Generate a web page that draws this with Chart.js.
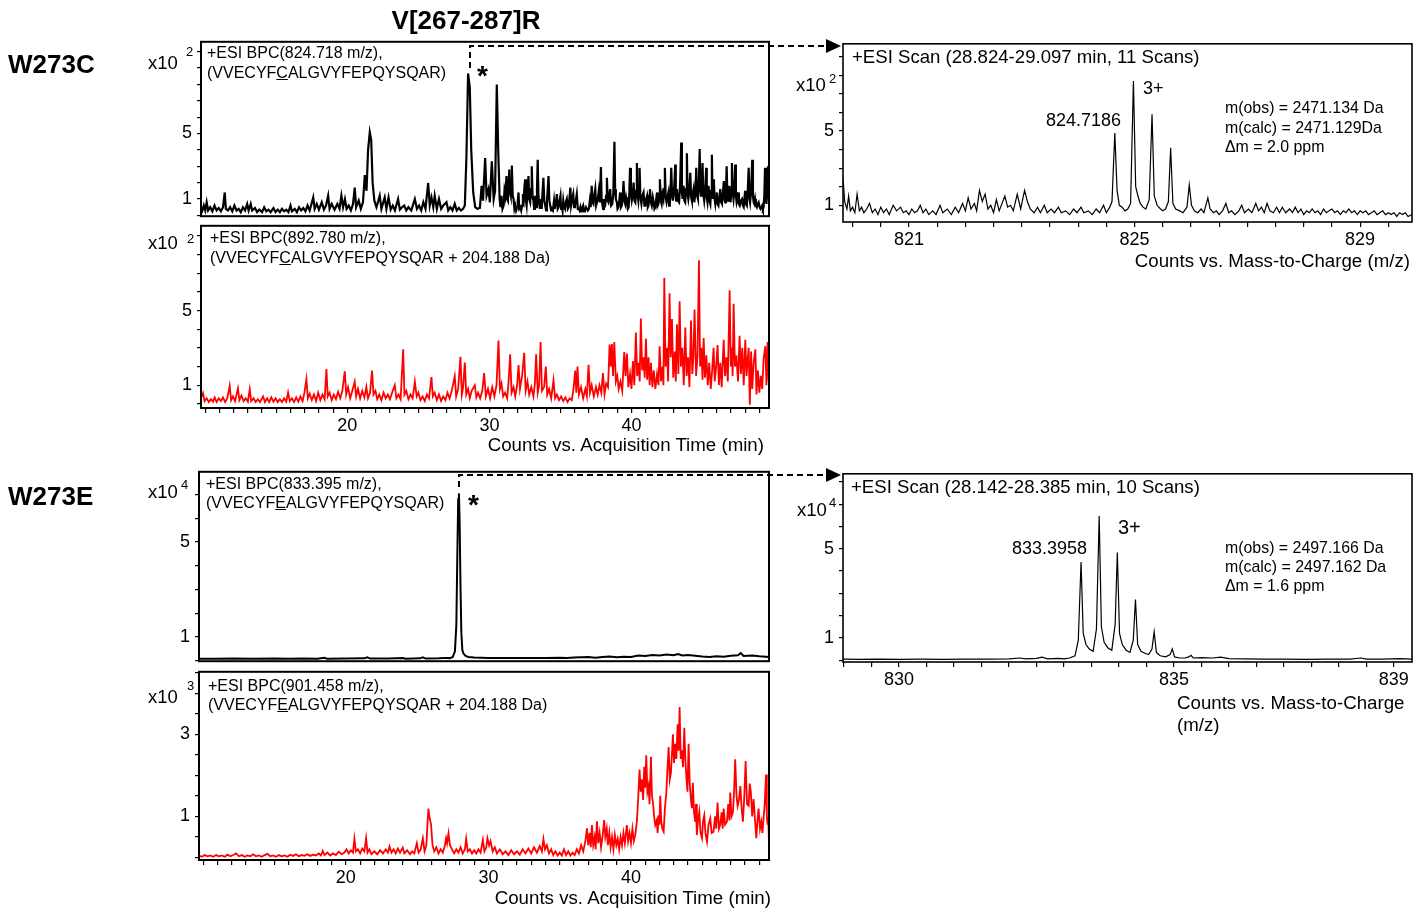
<!DOCTYPE html>
<html>
<head>
<meta charset="utf-8">
<script src="https://cdn.jsdelivr.net/npm/chart.js@4.4.1/dist/chart.umd.min.js"></script>
<style>
  body { margin: 0; background: #fff; overflow: hidden; }
  #fig { position: relative; width: 1416px; height: 910px; font-family: "Liberation Sans", Arial, sans-serif; color: #000; }
  #fig canvas { position: absolute; }
  .t { position: absolute; white-space: nowrap; line-height: 1; }
  .b { font-weight: bold; }
</style>
</head>
<body>
<div id="fig">
  <canvas id="cA"></canvas>
  <canvas id="cB"></canvas>
  <canvas id="cC"></canvas>
  <canvas id="cD"></canvas>
  <canvas id="cE"></canvas>
  <canvas id="cF"></canvas>

  <svg width="1416" height="910" style="position:absolute;left:0;top:0">
    <path d="M470 68 V46 H828" fill="none" stroke="#000" stroke-width="2" stroke-dasharray="6 4"/>
    <polygon points="826,39 841,46 826,53" fill="#000"/>
    <path d="M459 487 V475 H828" fill="none" stroke="#000" stroke-width="2" stroke-dasharray="6 4"/>
    <polygon points="826,468 841,475 826,482" fill="#000"/>
  </svg>

  <div class="t b" style="left:466px;top:7px;font-size:26px;transform:translateX(-50%)">V[267-287]R</div>
  <div class="t b" style="left:8px;top:51px;font-size:26px">W273C</div>
  <div class="t b" style="left:8px;top:483px;font-size:26px">W273E</div>

  <!-- chromatogram labels -->
  <div class="t" style="left:207px;top:45px;font-size:16px">+ESI BPC(824.718 m/z),</div>
  <div class="t" style="left:207px;top:65px;font-size:16px">(VVECYF<u>C</u>ALGVYFEPQYSQAR)</div>
  <div class="t" style="left:210px;top:230px;font-size:16px">+ESI BPC(892.780 m/z),</div>
  <div class="t" style="left:210px;top:250px;font-size:16px">(VVECYF<u>C</u>ALGVYFEPQYSQAR + 204.188 Da)</div>
  <div class="t" style="left:206px;top:476px;font-size:16px">+ESI BPC(833.395 m/z),</div>
  <div class="t" style="left:206px;top:495px;font-size:16px">(VVECYF<u>E</u>ALGVYFEPQYSQAR)</div>
  <div class="t" style="left:208px;top:678px;font-size:16px">+ESI BPC(901.458 m/z),</div>
  <div class="t" style="left:208px;top:697px;font-size:16px">(VVECYF<u>E</u>ALGVYFEPQYSQAR + 204.188 Da)</div>

  <!-- scale factors -->
  <div class="t" style="left:148px;top:54px;font-size:18.5px">x10</div>
  <div class="t" style="left:186px;top:45px;font-size:13px">2</div>
  <div class="t" style="left:148px;top:234px;font-size:18.5px">x10</div>
  <div class="t" style="left:187px;top:232px;font-size:13px">2</div>
  <div class="t" style="left:148px;top:483px;font-size:18.5px">x10</div>
  <div class="t" style="left:181px;top:478px;font-size:13px">4</div>
  <div class="t" style="left:148px;top:688px;font-size:18.5px">x10</div>
  <div class="t" style="left:187px;top:679px;font-size:13px">3</div>
  <div class="t" style="left:796px;top:76px;font-size:18.5px">x10</div>
  <div class="t" style="left:829px;top:72px;font-size:13px">2</div>
  <div class="t" style="left:797px;top:501px;font-size:18.5px">x10</div>
  <div class="t" style="left:829px;top:496px;font-size:13px">4</div>

  <!-- axis titles -->
  <div class="t" style="right:652px;top:436px;font-size:18.7px">Counts vs. Acquisition Time (min)</div>
  <div class="t" style="right:645px;top:889px;font-size:18.7px">Counts vs. Acquisition Time (min)</div>
  <div class="t" style="right:6px;top:252px;font-size:18.7px">Counts vs. Mass-to-Charge (m/z)</div>
  <div class="t" style="left:1177px;top:694px;font-size:18.7px">Counts vs. Mass-to-Charge</div>
  <div class="t" style="left:1177px;top:716px;font-size:18.7px">(m/z)</div>

  <!-- spectrum titles and notes -->
  <div class="t" style="left:852px;top:48px;font-size:18.6px">+ESI Scan (28.824-29.097 min, 11 Scans)</div>
  <div class="t" style="left:851px;top:478px;font-size:18.6px">+ESI Scan (28.142-28.385 min, 10 Scans)</div>
  <div class="t" style="left:1046px;top:111px;font-size:18px">824.7186</div>
  <div class="t" style="left:1143px;top:79px;font-size:18px">3+</div>
  <div class="t" style="left:1225px;top:100px;font-size:15.9px">m(obs) = 2471.134 Da</div>
  <div class="t" style="left:1225px;top:120px;font-size:15.9px">m(calc) = 2471.129Da</div>
  <div class="t" style="left:1225px;top:139px;font-size:15.9px">Δm = 2.0 ppm</div>
  <div class="t" style="left:1012px;top:539px;font-size:18px">833.3958</div>
  <div class="t" style="left:1118px;top:517px;font-size:20px">3+</div>
  <div class="t" style="left:1225px;top:540px;font-size:15.9px">m(obs) = 2497.166 Da</div>
  <div class="t" style="left:1225px;top:559px;font-size:15.9px">m(calc) = 2497.162 Da</div>
  <div class="t" style="left:1225px;top:578px;font-size:15.9px">Δm = 1.6 ppm</div>

  <div class="t b" style="left:477px;top:62px;font-size:28px">*</div>
  <div class="t b" style="left:468px;top:491px;font-size:28px">*</div>
</div>

<script>
// tick labels
const timeTickLabels = [20, 30, 40];
const mzTickLabelsC = [821, 825, 829];
const mzTickLabelsE = [830, 835, 839];

// W273C, BPC 824.718 m/z  [time (min), counts x10^2]
const w273cBpc = [[9.7,0.5],[9.8,0.3],[9.9,0.6],[10.0,0.3],[10.1,0.8],[10.2,0.3],[10.35,0.5],[10.5,0.25],[10.65,0.6],[10.8,0.3],[10.95,0.45],[11.1,0.25],[11.25,0.5],[11.37,1.4],[11.45,0.4],[11.6,0.3],[11.75,0.5],[11.9,0.25],[12.05,0.6],[12.2,0.3],[12.35,0.4],[12.5,0.2],[12.65,0.5],[12.8,0.3],[12.95,0.7],[13.05,0.3],[13.2,0.7],[13.3,0.3],[13.5,0.45],[13.65,0.2],[13.8,0.35],[14.0,0.2],[14.15,0.5],[14.3,0.25],[14.45,0.35],[14.6,0.2],[14.8,0.45],[14.95,0.2],[15.1,0.35],[15.25,0.2],[15.4,0.4],[15.55,0.25],[15.7,0.35],[15.85,0.2],[16.0,0.6],[16.1,0.25],[16.3,0.4],[16.45,0.2],[16.6,0.5],[16.75,0.3],[16.9,0.45],[17.05,0.25],[17.2,0.6],[17.35,0.3],[17.6,1.1],[17.7,0.4],[17.85,0.7],[18.0,0.35],[18.2,0.8],[18.35,0.35],[18.5,0.6],[18.65,1.2],[18.75,0.4],[18.9,0.7],[19.1,0.35],[19.3,0.7],[19.45,0.4],[19.58,1.2],[19.7,0.5],[19.83,1.0],[19.95,0.4],[20.1,0.6],[20.25,0.3],[20.4,0.7],[20.52,1.7],[20.62,0.5],[20.8,0.9],[20.95,0.4],[21.1,0.8],[21.23,2.46],[21.35,1.5],[21.46,4.0],[21.58,5.08],[21.68,4.6],[21.78,2.0],[21.9,0.9],[22.05,0.5],[22.15,0.8],[22.28,1.2],[22.4,0.4],[22.5,0.7],[22.63,1.1],[22.75,0.4],[22.9,1.1],[23.05,0.35],[23.2,0.6],[23.35,0.3],[23.57,1.0],[23.7,0.35],[23.85,0.5],[24.0,0.6],[24.15,0.3],[24.3,0.5],[24.5,0.3],[24.75,1.0],[24.9,0.4],[25.05,0.6],[25.2,0.3],[25.35,0.8],[25.5,0.4],[25.69,1.98],[25.8,0.6],[25.92,1.1],[26.05,0.5],[26.15,1.2],[26.3,0.4],[26.45,1.0],[26.6,0.4],[26.75,0.6],[26.98,0.8],[27.1,0.3],[27.25,0.5],[27.4,0.3],[27.56,0.7],[27.7,0.3],[27.85,0.45],[28.0,0.3],[28.15,0.4],[28.27,0.6],[28.38,3.5],[28.5,8.67],[28.62,7.8],[28.72,4.0],[28.86,1.4],[29.0,0.5],[29.15,0.4],[29.33,0.45],[29.45,1.8],[29.55,0.9],[29.7,3.5],[29.8,1.2],[29.93,1.6],[30.03,0.8],[30.17,3.3],[30.3,1.0],[30.4,1.5],[30.52,7.99],[30.62,4.0],[30.72,1.0],[30.78,0.5],[30.85,1.2],[30.92,0.4],[31.0,0.6],[31.06,1.5],[31.12,1.2],[31.2,2.4],[31.25,1.0],[31.3,0.9],[31.35,1.9],[31.4,2.8],[31.45,1.4],[31.5,1.2],[31.55,2.0],[31.58,3.04],[31.64,1.2],[31.7,1.0],[31.76,0.4],[31.82,0.6],[31.88,0.3],[31.95,0.5],[32.0,0.9],[32.05,1.4],[32.1,0.4],[32.18,0.5],[32.24,0.3],[32.3,0.6],[32.36,1.3],[32.42,1.0],[32.47,1.8],[32.52,2.2],[32.57,0.9],[32.62,0.6],[32.68,1.5],[32.75,2.4],[32.8,1.0],[32.87,0.8],[32.93,1.6],[32.98,3.0],[33.04,1.1],[33.1,0.9],[33.15,0.4],[33.2,1.2],[33.25,0.6],[33.3,0.5],[33.35,1.6],[33.4,3.4],[33.45,1.2],[33.5,0.8],[33.56,0.4],[33.62,1.0],[33.68,0.4],[33.74,1.4],[33.8,2.3],[33.86,0.9],[33.93,0.6],[33.99,0.3],[34.05,0.9],[34.1,1.5],[34.16,2.4],[34.22,0.9],[34.28,0.6],[34.34,0.3],[34.4,0.4],[34.47,0.3],[34.55,0.9],[34.6,0.4],[34.68,0.8],[34.75,1.3],[34.81,0.4],[34.87,0.5],[34.94,0.9],[35.0,1.2],[35.05,0.4],[35.1,0.6],[35.15,0.3],[35.2,0.9],[35.26,0.5],[35.32,0.4],[35.38,0.8],[35.45,1.0],[35.52,0.4],[35.58,0.5],[35.64,1.1],[35.7,1.7],[35.75,0.6],[35.8,0.6],[35.85,1.1],[35.9,1.3],[35.96,0.5],[36.02,0.6],[36.08,0.9],[36.15,1.3],[36.22,0.4],[36.28,0.4],[36.34,0.3],[36.4,0.5],[36.45,0.25],[36.5,0.3],[36.55,0.5],[36.6,0.6],[36.66,0.25],[36.72,0.3],[36.8,0.5],[36.86,0.5],[36.93,0.3],[37.0,0.4],[37.07,0.9],[37.13,0.5],[37.2,1.8],[37.26,0.8],[37.32,0.7],[37.38,1.2],[37.45,1.6],[37.51,0.6],[37.57,0.6],[37.63,1.0],[37.7,1.5],[37.77,0.8],[37.85,2.95],[37.9,0.9],[37.95,0.7],[38.0,0.4],[38.05,1.0],[38.1,0.5],[38.15,0.6],[38.21,1.2],[38.27,2.3],[38.33,0.9],[38.38,0.8],[38.44,1.2],[38.5,1.6],[38.57,0.6],[38.65,0.7],[38.72,1.3],[38.8,4.5],[38.85,1.6],[38.9,1.0],[38.97,0.8],[39.02,0.4],[39.08,0.5],[39.14,0.9],[39.2,1.4],[39.26,0.5],[39.32,0.6],[39.38,1.0],[39.44,2.1],[39.5,0.9],[39.56,0.7],[39.62,1.1],[39.68,0.8],[39.74,0.4],[39.8,0.5],[39.85,1.4],[39.9,2.9],[39.96,1.3],[40.02,0.9],[40.08,1.2],[40.15,2.0],[40.21,0.9],[40.27,0.8],[40.33,1.5],[40.38,3.2],[40.43,1.2],[40.48,0.9],[40.53,1.6],[40.57,2.9],[40.63,1.1],[40.7,0.7],[40.77,1.2],[40.85,1.4],[40.91,0.6],[40.97,0.6],[41.03,1.0],[41.1,1.2],[41.15,0.5],[41.2,0.6],[41.25,1.2],[41.3,1.6],[41.37,0.8],[41.43,0.6],[41.5,1.1],[41.56,0.8],[41.62,0.4],[41.68,0.5],[41.74,1.0],[41.8,1.4],[41.85,0.6],[41.9,0.7],[41.95,1.3],[42.0,2.2],[42.06,0.9],[42.12,0.7],[42.18,1.3],[42.25,1.0],[42.3,1.6],[42.35,2.9],[42.41,1.1],[42.47,0.8],[42.53,1.1],[42.6,1.4],[42.65,0.6],[42.7,0.7],[42.75,1.5],[42.8,2.9],[42.86,1.2],[42.92,0.9],[43.0,1.6],[43.08,3.1],[43.12,1.2],[43.15,0.9],[43.2,1.6],[43.27,0.9],[43.35,0.8],[43.42,1.8],[43.5,4.45],[43.55,1.4],[43.6,1.0],[43.67,1.8],[43.72,0.9],[43.78,0.8],[43.84,1.6],[43.9,3.8],[43.95,1.3],[44.0,1.0],[44.07,1.5],[44.14,2.6],[44.2,1.1],[44.25,0.9],[44.31,1.3],[44.37,1.6],[44.42,0.8],[44.46,0.8],[44.51,1.5],[44.56,2.9],[44.62,1.2],[44.68,1.0],[44.74,1.8],[44.8,4.05],[44.85,1.6],[44.9,1.2],[44.95,1.8],[45.0,3.2],[45.06,1.3],[45.12,0.9],[45.19,1.5],[45.26,2.9],[45.3,1.1],[45.35,0.8],[45.39,1.2],[45.43,1.8],[45.49,0.9],[45.55,0.7],[45.6,1.5],[45.66,3.7],[45.7,1.4],[45.73,1.0],[45.77,1.5],[45.8,2.2],[45.85,1.0],[45.9,0.7],[45.95,1.1],[46.0,1.4],[46.06,0.7],[46.12,0.6],[46.18,1.1],[46.25,1.6],[46.31,0.8],[46.37,0.7],[46.43,1.3],[46.5,2.1],[46.55,1.0],[46.6,0.8],[46.65,1.5],[46.7,3.0],[46.75,1.2],[46.8,0.9],[46.85,1.3],[46.9,1.8],[46.94,1.0],[46.98,0.8],[47.02,1.6],[47.07,3.2],[47.12,1.4],[47.18,1.0],[47.24,1.6],[47.3,3.1],[47.35,1.2],[47.4,0.8],[47.45,1.0],[47.5,1.4],[47.56,0.7],[47.62,0.6],[47.7,0.9],[47.78,1.0],[47.84,0.6],[47.9,0.5],[47.95,1.0],[48.0,1.5],[48.06,0.7],[48.12,0.6],[48.18,1.4],[48.25,2.9],[48.3,1.1],[48.35,0.8],[48.42,1.5],[48.5,3.4],[48.55,1.2],[48.6,0.8],[48.65,0.7],[48.7,1.0],[48.76,0.6],[48.82,0.5],[48.88,0.7],[48.95,0.8],[49.02,0.5],[49.08,0.4],[49.14,0.5],[49.2,0.6],[49.25,0.4],[49.3,0.5],[49.35,1.2],[49.4,2.9],[49.45,1.1],[49.5,0.7],[49.55,1.4],[49.6,3.0],[49.64,1.4],[49.68,1.0]];

// W273C, BPC 892.780 m/z (+204.188 Da)  [time, counts x10^2]
const w273cAdduct = [[9.7,0.3],[9.84,0.57],[9.95,0.15],[10.1,0.3],[10.25,0.1],[10.4,0.25],[10.55,0.12],[10.66,0.35],[10.8,0.1],[10.95,0.3],[11.1,0.15],[11.25,0.35],[11.4,0.1],[11.55,0.3],[11.72,0.97],[11.82,0.2],[11.95,0.4],[12.1,0.15],[12.3,0.83],[12.4,0.2],[12.55,0.45],[12.7,0.15],[12.85,0.3],[13.0,0.12],[13.13,0.78],[13.23,0.15],[13.4,0.3],[13.55,0.1],[13.7,0.25],[13.85,0.1],[14.07,0.4],[14.2,0.1],[14.35,0.3],[14.5,0.1],[14.65,0.35],[14.8,0.12],[14.95,0.3],[15.1,0.1],[15.25,0.25],[15.4,0.1],[15.55,0.3],[15.7,0.12],[15.83,0.62],[15.95,0.15],[16.1,0.3],[16.25,0.1],[16.4,0.35],[16.55,0.12],[16.7,0.4],[16.85,0.15],[16.98,0.6],[17.12,1.33],[17.22,0.3],[17.35,0.55],[17.5,0.2],[17.65,0.5],[17.8,0.15],[17.95,0.6],[18.1,0.2],[18.25,0.5],[18.4,0.25],[18.53,1.87],[18.62,0.4],[18.75,0.6],[18.9,0.2],[19.05,0.5],[19.2,0.25],[19.35,0.65],[19.5,0.3],[19.65,0.7],[19.82,1.75],[19.92,0.5],[20.05,0.9],[20.2,0.3],[20.35,0.7],[20.52,1.18],[20.62,0.4],[20.75,0.8],[20.9,0.3],[21.05,0.7],[21.2,0.35],[21.34,0.9],[21.45,0.3],[21.6,0.6],[21.74,1.79],[21.84,0.5],[21.98,0.7],[22.1,0.25],[22.25,0.5],[22.4,0.2],[22.55,0.6],[22.7,0.3],[22.85,0.5],[23.0,0.25],[23.15,0.6],[23.34,1.0],[23.45,0.3],[23.6,0.5],[23.75,0.25],[23.93,2.92],[24.02,0.5],[24.15,0.7],[24.3,0.25],[24.45,0.5],[24.6,0.3],[24.75,1.2],[24.88,0.4],[25.0,0.6],[25.15,0.2],[25.3,0.4],[25.45,0.15],[25.6,0.5],[25.75,0.3],[25.92,1.44],[26.02,0.4],[26.15,0.6],[26.3,0.2],[26.45,0.5],[26.6,0.15],[26.75,0.4],[26.9,0.2],[27.05,0.6],[27.2,0.3],[27.35,0.7],[27.56,1.49],[27.66,0.4],[27.8,0.8],[27.96,2.52],[28.06,0.5],[28.15,0.9],[28.27,2.22],[28.37,0.5],[28.5,0.8],[28.62,0.3],[28.75,0.7],[28.97,1.0],[29.08,0.35],[29.2,0.6],[29.35,0.3],[29.5,0.7],[29.63,1.65],[29.75,0.4],[29.9,0.8],[30.05,0.3],[30.2,0.9],[30.35,0.4],[30.5,1.0],[30.64,3.39],[30.74,0.8],[30.85,1.1],[30.97,0.4],[31.1,0.6],[31.25,0.3],[31.35,1.2],[31.46,2.66],[31.56,0.6],[31.7,0.9],[31.82,0.4],[31.95,1.0],[32.05,2.08],[32.15,0.8],[32.3,1.5],[32.45,2.74],[32.55,0.7],[32.68,1.2],[32.8,0.5],[32.95,0.9],[33.1,0.4],[33.2,1.1],[33.29,2.66],[33.4,0.6],[33.5,1.0],[33.6,3.32],[33.7,0.7],[33.85,0.9],[33.97,2.0],[34.07,0.5],[34.2,0.8],[34.35,0.3],[34.51,1.27],[34.62,0.3],[34.75,0.5],[34.9,0.2],[35.05,0.4],[35.2,0.15],[35.35,0.35],[35.5,0.1],[35.65,0.3],[35.8,0.2],[35.92,0.8],[36.04,1.79],[36.12,0.6],[36.2,2.0],[36.3,0.5],[36.45,0.9],[36.6,0.3],[36.75,0.8],[36.86,0.4],[36.98,2.1],[37.08,0.6],[37.2,1.0],[37.35,0.4],[37.5,0.9],[37.62,0.5],[37.75,1.0],[37.88,0.6],[37.99,1.65],[38.1,0.5],[38.22,1.1],[38.35,0.9],[38.46,3.18],[38.54,2.0],[38.62,3.2],[38.7,1.5],[38.79,3.32],[38.9,1.2],[39.0,1.5],[39.1,0.8],[39.22,1.2],[39.35,0.7],[39.49,2.78],[39.58,1.5],[39.68,2.7],[39.78,0.9],[39.9,1.6],[40.0,0.8],[40.1,2.3],[40.2,1.0],[40.31,3.82],[40.4,1.5],[40.5,2.2],[40.58,1.2],[40.66,4.57],[40.75,1.8],[40.85,2.5],[40.93,1.4],[41.02,3.49],[41.1,1.3],[41.2,2.5],[41.28,1.0],[41.37,2.2],[41.47,0.9],[41.57,1.8],[41.68,0.8],[41.8,1.6],[41.9,1.0],[41.98,3.09],[42.08,1.2],[42.18,2.0],[42.25,1.0],[42.31,6.75],[42.4,2.0],[42.5,3.0],[42.58,1.2],[42.68,5.93],[42.76,2.5],[42.85,4.54],[42.94,1.4],[43.05,2.8],[43.12,1.2],[43.2,4.26],[43.3,1.6],[43.39,5.5],[43.48,2.0],[43.58,3.0],[43.68,1.0],[43.79,4.09],[43.88,1.5],[43.98,2.5],[44.08,0.9],[44.19,4.47],[44.28,1.6],[44.36,2.5],[44.44,5.06],[44.55,1.5],[44.65,2.6],[44.75,7.7],[44.83,2.0],[44.92,3.0],[45.0,1.3],[45.08,3.53],[45.17,1.4],[45.27,2.6],[45.37,1.0],[45.47,2.2],[45.58,0.8],[45.68,1.8],[45.78,3.0],[45.86,1.2],[45.96,2.0],[46.06,3.15],[46.15,1.0],[46.25,2.2],[46.35,0.9],[46.49,3.44],[46.58,1.5],[46.68,2.5],[46.78,1.2],[46.91,6.09],[46.99,2.0],[47.07,3.0],[47.12,1.5],[47.19,5.36],[47.28,2.0],[47.38,2.6],[47.5,1.2],[47.61,3.65],[47.7,1.6],[47.8,3.0],[47.9,1.0],[48.01,3.44],[48.1,1.5],[48.18,2.4],[48.25,3.0],[48.33,-0.05],[48.42,2.8],[48.5,0.8],[48.6,2.2],[48.72,2.92],[48.8,0.5],[48.9,1.8],[49.0,0.6],[49.1,1.5],[49.2,0.8],[49.3,2.4],[49.42,3.09],[49.5,1.0],[49.58,3.32],[49.66,1.2]];

// W273E, BPC 833.395 m/z  [time, counts x10^4]
const w273eBpc = [[9.7,0.08],[11,0.08],[12,0.09],[13.5,0.08],[15,0.09],[16,0.08],[17,0.09],[18,0.08],[18.5,0.12],[18.7,0.08],[20,0.09],[21.3,0.1],[21.5,0.14],[21.7,0.09],[23,0.09],[24,0.11],[24.2,0.08],[25.2,0.1],[25.4,0.14],[25.6,0.09],[26.5,0.1],[27,0.12],[27.3,0.11],[27.5,0.16],[27.65,0.4],[27.75,1.5],[27.82,4.5],[27.88,6.8],[27.93,7.05],[27.98,5.9],[28.04,3.2],[28.1,1.2],[28.17,0.45],[28.25,0.3],[28.4,0.2],[28.6,0.16],[29,0.14],[30,0.12],[31,0.11],[32,0.12],[33,0.11],[34,0.12],[35,0.13],[35.5,0.11],[36,0.14],[37,0.16],[37.5,0.13],[38,0.16],[38.5,0.18],[39,0.15],[39.5,0.17],[40,0.16],[40.5,0.22],[41,0.2],[41.5,0.24],[42,0.22],[42.5,0.26],[43,0.23],[43.3,0.28],[43.6,0.22],[44,0.24],[44.5,0.21],[45,0.18],[45.5,0.16],[46,0.19],[46.5,0.17],[47,0.21],[47.5,0.23],[47.7,0.32],[47.9,0.2],[48.5,0.22],[49,0.19],[49.68,0.16]];

// W273E, BPC 901.458 m/z (+204.188 Da)  [time, counts x10^3]
const w273eAdduct = [[9.7,0.05],[9.9,0.02],[10.1,0.06],[10.3,0.03],[10.5,0.05],[10.7,0.02],[10.9,0.06],[11.1,0.03],[11.3,0.05],[11.5,0.02],[11.7,0.07],[11.9,0.03],[12.1,0.06],[12.3,0.1],[12.5,0.03],[12.7,0.06],[12.9,0.02],[13.1,0.05],[13.3,0.03],[13.5,0.08],[13.7,0.03],[13.9,0.05],[14.1,0.02],[14.3,0.06],[14.5,0.09],[14.7,0.03],[14.9,0.05],[15.1,0.02],[15.3,0.06],[15.5,0.03],[15.7,0.05],[15.9,0.02],[16.1,0.07],[16.3,0.04],[16.5,0.08],[16.7,0.03],[16.9,0.06],[17.1,0.04],[17.3,0.08],[17.5,0.04],[17.7,0.07],[17.9,0.05],[18.1,0.1],[18.25,0.05],[18.38,0.16],[18.5,0.06],[18.7,0.12],[18.9,0.05],[19.1,0.1],[19.3,0.06],[19.5,0.14],[19.7,0.08],[19.9,0.12],[20.05,0.2],[20.2,0.1],[20.35,0.18],[20.5,0.12],[20.6,0.46],[20.7,0.15],[20.85,0.2],[21.0,0.1],[21.15,0.22],[21.3,0.15],[21.42,0.47],[21.52,0.12],[21.65,0.2],[21.8,0.08],[22.0,0.15],[22.2,0.08],[22.4,0.18],[22.6,0.1],[22.8,0.2],[22.95,0.12],[23.06,0.27],[23.2,0.12],[23.35,0.2],[23.5,0.1],[23.65,0.22],[23.8,0.12],[23.99,0.24],[24.1,0.1],[24.3,0.18],[24.5,0.08],[24.65,0.15],[24.8,0.1],[24.98,0.35],[25.1,0.12],[25.25,0.2],[25.4,0.47],[25.52,0.15],[25.65,0.3],[25.72,0.8],[25.79,1.19],[25.86,1.0],[25.98,0.79],[26.08,0.3],[26.2,0.15],[26.35,0.25],[26.5,0.1],[26.65,0.2],[26.8,0.12],[26.95,0.3],[27.03,0.47],[27.1,0.35],[27.2,0.59],[27.3,0.3],[27.45,0.2],[27.6,0.1],[27.75,0.2],[27.9,0.12],[28.05,0.25],[28.2,0.1],[28.35,0.2],[28.44,0.46],[28.55,0.15],[28.7,0.2],[28.85,0.1],[29.0,0.18],[29.15,0.1],[29.3,0.2],[29.45,0.12],[29.61,0.43],[29.72,0.15],[29.85,0.25],[29.93,0.47],[30.05,0.3],[30.15,0.4],[30.3,0.15],[30.45,0.25],[30.6,0.1],[30.8,0.2],[31.0,0.08],[31.2,0.15],[31.4,0.06],[31.6,0.18],[31.8,0.08],[32.0,0.15],[32.2,0.07],[32.4,0.2],[32.6,0.1],[32.8,0.22],[33.0,0.1],[33.2,0.25],[33.4,0.12],[33.6,0.28],[33.75,0.15],[33.86,0.45],[33.97,0.2],[34.1,0.3],[34.25,0.1],[34.4,0.2],[34.55,0.06],[34.7,0.15],[34.85,0.05],[35.0,0.12],[35.15,0.05],[35.3,0.2],[35.45,0.06],[35.6,0.15],[35.75,0.05],[35.9,0.12],[36.05,0.06],[36.2,0.2],[36.35,0.1],[36.5,0.3],[36.65,0.15],[36.8,0.4],[36.91,0.71],[37.0,0.3],[37.1,0.6],[37.18,0.25],[37.26,0.79],[37.35,0.3],[37.45,0.5],[37.52,0.2],[37.61,0.88],[37.7,0.35],[37.8,0.6],[37.9,0.25],[38.0,0.5],[38.12,0.91],[38.2,0.5],[38.3,0.7],[38.38,0.3],[38.48,0.6],[38.57,0.25],[38.67,0.5],[38.77,0.2],[38.87,0.55],[38.97,0.3],[39.07,0.45],[39.17,0.2],[39.27,0.5],[39.37,0.3],[39.47,0.6],[39.57,0.35],[39.71,0.79],[39.8,0.4],[39.9,0.6],[40.0,0.35],[40.1,0.7],[40.2,0.4],[40.3,0.55],[40.41,0.87],[40.5,1.4],[40.6,2.14],[40.68,1.6],[40.77,1.9],[40.85,1.4],[40.93,2.21],[41.0,1.7],[41.07,2.49],[41.15,1.6],[41.23,1.74],[41.3,1.3],[41.4,2.45],[41.47,1.5],[41.54,1.34],[41.62,1.0],[41.7,0.79],[41.8,0.9],[41.87,0.6],[41.93,1.03],[42.0,0.8],[42.05,1.5],[42.12,0.9],[42.2,0.7],[42.29,0.63],[42.38,1.2],[42.47,1.54],[42.55,2.1],[42.64,2.69],[42.72,1.9],[42.8,2.06],[42.87,2.5],[42.94,3.0],[43.02,2.3],[43.1,2.77],[43.18,2.4],[43.27,3.24],[43.34,2.6],[43.41,3.66],[43.49,2.4],[43.57,2.61],[43.65,2.2],[43.74,3.16],[43.81,2.4],[43.88,1.98],[43.96,1.6],[44.04,2.77],[44.12,1.8],[44.2,1.42],[44.27,1.2],[44.34,1.82],[44.42,1.1],[44.51,0.87],[44.56,1.3],[44.62,0.55],[44.7,0.9],[44.79,1.11],[44.88,0.6],[44.98,0.47],[45.06,0.9],[45.14,1.03],[45.22,0.6],[45.33,0.39],[45.44,0.8],[45.56,0.95],[45.66,0.6],[45.79,0.63],[45.9,1.0],[45.98,0.7],[46.07,1.34],[46.17,0.7],[46.26,0.8],[46.36,1.1],[46.43,0.7],[46.5,1.19],[46.6,0.8],[46.73,0.87],[46.82,1.3],[46.9,0.9],[46.96,1.58],[47.05,1.0],[47.15,1.1],[47.23,1.6],[47.31,2.39],[47.4,1.5],[47.48,1.26],[47.57,1.4],[47.67,1.74],[47.76,1.2],[47.85,0.87],[47.95,1.5],[48.04,2.35],[48.14,1.3],[48.25,1.26],[48.33,1.8],[48.41,1.58],[48.5,1.0],[48.6,1.42],[48.7,0.9],[48.79,0.47],[48.87,0.9],[48.95,1.19],[49.05,0.7],[49.14,0.87],[49.22,0.6],[49.3,0.95],[49.38,1.3],[49.47,2.02],[49.53,1.0],[49.58,0.8],[49.63,1.0],[49.68,0.3]];

// W273C scan, 28.824-29.097 min  [m/z, counts x10^2]
const w273cScan = [[819.83,2.5],[819.86,1.2],[819.9,0.8],[819.93,1.5],[819.96,0.7],[820.0,0.9],[820.04,0.6],[820.08,1.6],[820.12,0.7],[820.16,0.9],[820.2,0.6],[820.25,0.8],[820.3,1.1],[820.35,0.6],[820.4,0.8],[820.45,0.5],[820.5,0.9],[820.55,0.6],[820.6,0.8],[820.65,0.5],[820.72,1.0],[820.78,0.7],[820.85,0.9],[820.9,0.6],[820.95,0.7],[821.0,0.5],[821.05,0.8],[821.1,0.6],[821.15,0.7],[821.2,1.0],[821.25,0.6],[821.3,0.8],[821.35,0.5],[821.42,0.7],[821.48,0.5],[821.55,1.0],[821.6,0.6],[821.68,0.8],[821.75,0.5],[821.82,0.9],[821.88,0.6],[821.95,1.1],[822.0,0.7],[822.05,1.4],[822.1,0.8],[822.16,1.1],[822.2,0.7],[822.25,1.8],[822.3,1.2],[822.35,1.6],[822.4,0.8],[822.45,1.0],[822.5,0.6],[822.55,1.3],[822.6,0.7],[822.7,1.5],[822.75,0.9],[822.8,1.0],[822.85,0.7],[822.92,1.6],[822.98,0.8],[823.05,1.8],[823.1,1.2],[823.15,0.8],[823.22,0.6],[823.28,0.9],[823.33,0.6],[823.4,1.0],[823.45,0.6],[823.52,0.8],[823.58,0.6],[823.65,0.9],[823.7,0.6],[823.78,0.7],[823.85,0.5],[823.92,0.8],[823.98,0.6],[824.05,0.9],[824.1,0.6],[824.18,0.7],[824.25,0.5],[824.32,0.8],[824.38,0.6],[824.45,1.0],[824.5,0.6],[824.56,0.9],[824.6,1.2],[824.65,4.9],[824.69,1.8],[824.73,1.0],[824.78,0.9],[824.83,0.7],[824.88,0.8],[824.93,1.1],[824.98,7.7],[825.02,2.0],[825.06,1.5],[825.1,1.1],[825.15,0.9],[825.2,0.8],[825.26,1.3],[825.31,5.9],[825.35,1.5],[825.4,1.0],[825.46,0.8],[825.5,0.7],[825.55,0.8],[825.6,1.2],[825.64,4.1],[825.68,1.1],[825.73,0.8],[825.8,0.7],[825.86,0.6],[825.93,0.9],[825.97,2.1],[826.01,1.0],[826.06,0.7],[826.12,0.6],[826.18,0.8],[826.23,0.6],[826.3,1.4],[826.34,0.8],[826.4,0.6],[826.45,0.7],[826.5,0.5],[826.56,0.7],[826.62,1.1],[826.67,0.6],[826.72,0.7],[826.78,0.5],[826.85,0.7],[826.9,1.0],[826.95,0.6],[827.02,0.8],[827.08,0.6],[827.15,1.1],[827.2,0.7],[827.25,0.9],[827.3,0.6],[827.35,1.1],[827.4,0.7],[827.46,0.6],[827.52,0.9],[827.57,0.6],[827.62,0.9],[827.68,0.6],[827.75,0.8],[827.8,0.6],[827.85,0.9],[827.9,0.6],[827.95,0.8],[828.0,0.5],[828.05,0.7],[828.1,0.6],[828.15,0.8],[828.2,0.6],[828.25,0.7],[828.3,0.5],[828.35,0.8],[828.4,0.6],[828.45,0.7],[828.5,0.8],[828.55,0.6],[828.6,0.7],[828.65,0.5],[828.7,0.7],[828.75,0.6],[828.8,0.8],[828.85,0.6],[828.9,0.7],[828.95,0.5],[829.0,0.7],[829.05,0.6],[829.1,0.7],[829.15,0.5],[829.2,0.6],[829.25,0.7],[829.3,0.5],[829.35,0.6],[829.4,0.7],[829.45,0.5],[829.5,0.6],[829.55,0.5],[829.6,0.6],[829.65,0.4],[829.7,0.6],[829.75,0.5],[829.8,0.6],[829.85,0.4],[829.92,0.5]];

// W273E scan, 28.142-28.385 min  [m/z, counts x10^4]
const w273eScan = [[828.98,0.05],[829.3,0.04],[829.6,0.05],[830.0,0.04],[830.4,0.05],[830.8,0.04],[831.2,0.05],[831.6,0.05],[832.0,0.06],[832.2,0.1],[832.3,0.06],[832.5,0.08],[832.6,0.14],[832.7,0.06],[832.9,0.08],[833.0,0.06],[833.1,0.1],[833.2,0.2],[833.26,0.9],[833.31,4.4],[833.35,1.2],[833.4,0.7],[833.46,0.5],[833.53,0.4],[833.59,1.4],[833.64,6.47],[833.68,1.5],[833.73,0.8],[833.8,0.55],[833.87,0.45],[833.93,1.6],[833.97,4.83],[834.01,1.2],[834.06,0.7],[834.13,0.45],[834.2,0.35],[834.26,0.9],[834.3,2.72],[834.34,0.7],[834.4,0.4],[834.48,0.3],[834.54,0.25],[834.6,0.5],[834.64,1.28],[834.68,0.35],[834.75,0.2],[834.85,0.15],[834.93,0.25],[834.97,0.51],[835.01,0.15],[835.1,0.1],[835.2,0.1],[835.27,0.15],[835.31,0.22],[835.35,0.1],[835.5,0.12],[835.7,0.1],[835.85,0.14],[836.0,0.07],[836.3,0.06],[836.6,0.05],[837.0,0.05],[837.4,0.04],[837.8,0.05],[838.2,0.05],[838.4,0.1],[838.5,0.05],[838.8,0.05],[839.1,0.07],[839.33,0.05]];

Chart.defaults.font.family = '"Liberation Sans", Arial, sans-serif';
Chart.defaults.color = '#000';

const boxPlugin = {
  id: 'box',
  afterDatasetsDraw(chart, args, opts) {
    const { ctx, chartArea: a } = chart;
    ctx.save();
    ctx.strokeStyle = '#000';
    ctx.lineWidth = opts.width;
    ctx.strokeRect(a.left, a.top, a.right - a.left, a.bottom - a.top);
    ctx.restore();
  }
};

function near(v, list) {
  return list.some(l => Math.abs(v - l) < 1e-6);
}

function makePanel(id, p) {
  const YW = 60, PT = 12;
  const XH = p.xLabels ? 46 : 0;
  const PB = p.xLabels ? 0 : 12;
  const PR = p.padRight;
  const w = YW + (p.box.r - p.box.l) + PR;
  const h = PT + (p.box.b - p.box.t) + XH + PB;
  const cv = document.getElementById(id);
  cv.width = w; cv.height = h;
  cv.style.width = w + 'px'; cv.style.height = h + 'px';
  cv.style.left = (p.box.l - YW) + 'px';
  cv.style.top = (p.box.t - PT) + 'px';

  return new Chart(cv, {
    type: 'line',
    data: {
      datasets: [{
        data: p.data.map(([x, y]) => ({ x, y })),
        borderColor: p.color,
        borderWidth: p.lw,
        pointRadius: 0,
        tension: 0,
        fill: false
      }]
    },
    plugins: [boxPlugin],
    options: {
      responsive: false,
      animation: false,
      events: [],
      layout: { autoPadding: false, padding: { left: 0, top: PT, right: PR, bottom: PB } },
      plugins: { legend: { display: false }, tooltip: { enabled: false }, box: { width: p.boxW } },
      scales: {
        x: {
          type: 'linear',
          display: !!p.xLabels,
          min: p.xMin, max: p.xMax,
          border: { display: false },
          grid: { drawOnChartArea: false, drawTicks: true, tickLength: 5, color: '#000', lineWidth: 1.2 },
          ticks: {
            stepSize: p.xStep, autoSkip: false, maxRotation: 0, includeBounds: false, padding: 2,
            font: { size: 18 },
            callback: v => (p.xLabels && near(v, p.xLabels)) ? String(Math.round(v)) : ''
          },
          afterFit: s => { s.height = XH; }
        },
        y: {
          type: 'linear',
          min: p.yMin, max: p.yMax,
          border: { display: false },
          grid: { drawOnChartArea: false, drawTicks: true, tickLength: 4, color: '#000', lineWidth: 1.2 },
          ticks: {
            stepSize: p.yStep, autoSkip: false, includeBounds: false, padding: 5,
            font: { size: 18 },
            callback: v => near(v, p.yLabels) ? String(v) : ''
          },
          afterFit: s => { s.width = YW; }
        }
      }
    }
  });
}

makePanel('cA', { box: { l: 201, t: 38, r: 769, b: 220 }, padRight: 12, data: w273cBpc, color: '#000', lw: 2.2, boxW: 2,
  xMin: 9.7, xMax: 49.68, xStep: 1, xLabels: null, yMin: -0.05, yMax: 10.6, yStep: 1, yLabels: [1, 5] });
makePanel('cB', { box: { l: 201, t: 222, r: 769, b: 408 }, padRight: 12, data: w273cAdduct, color: '#ff0000', lw: 1.8, boxW: 2,
  xMin: 9.7, xMax: 49.68, xStep: 1, xLabels: timeTickLabels, yMin: -0.22, yMax: 9.54, yStep: 1, yLabels: [1, 5] });
makePanel('cC', { box: { l: 199, t: 468, r: 769, b: 665 }, padRight: 12, data: w273eBpc, color: '#000', lw: 2, boxW: 2,
  xMin: 9.7, xMax: 49.68, xStep: 1, xLabels: null, yMin: -0.02, yMax: 7.96, yStep: 1, yLabels: [1, 5] });
makePanel('cD', { box: { l: 199, t: 668, r: 769, b: 860 }, padRight: 12, data: w273eAdduct, color: '#ff0000', lw: 1.8, boxW: 2,
  xMin: 9.7, xMax: 49.68, xStep: 1, xLabels: timeTickLabels, yMin: -0.06, yMax: 4.52, yStep: 0.5, yLabels: [1, 3] });
makePanel('cE', { box: { l: 843, t: 40, r: 1412, b: 222 }, padRight: 3, data: w273cScan, color: '#000', lw: 1.2, boxW: 1.6,
  xMin: 819.83, xMax: 829.92, xStep: 0.5, xLabels: mzTickLabelsC, yMin: 0.1, yMax: 9.7, yStep: 1, yLabels: [1, 5] });
makePanel('cF', { box: { l: 843, t: 470, r: 1412, b: 662 }, padRight: 3, data: w273eScan, color: '#000', lw: 1.2, boxW: 1.6,
  xMin: 828.98, xMax: 839.33, xStep: 0.5, xLabels: mzTickLabelsE, yMin: -0.08, yMax: 8.36, yStep: 1, yLabels: [1, 5] });
</script>
</body>
</html>
